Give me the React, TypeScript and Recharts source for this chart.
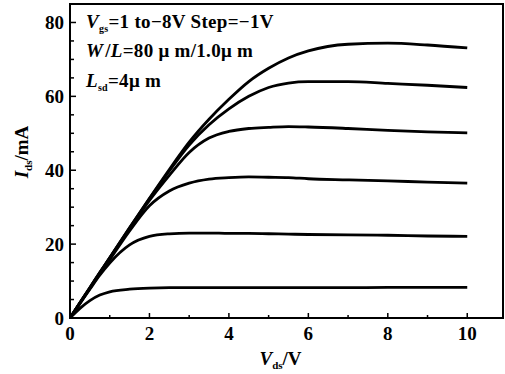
import React from "react";
import { LineChart, Line, XAxis, YAxis, ReferenceArea } from "recharts";

// Vds sample points (V) shared by every curve
const vds = [0, 0.25, 0.5, 0.75, 1, 1.5, 2, 2.5, 3, 3.5, 4, 4.5, 5, 5.5, 6, 7, 8, 9, 10];

// Ids (mA), Vgs = 1 .. -4 V
const idsVgs1 = [0, 4.1, 8.2, 12.3, 16.3, 24.4, 32.4, 40.2, 47.6, 53.8, 59.2, 64.0, 67.6, 70.4, 72.3, 74.1, 74.4, 73.9, 73.1];
const idsVgs0 = [0, 4.1, 8.2, 12.3, 16.3, 24.4, 32.3, 39.8, 46.8, 52.3, 56.6, 60.0, 62.4, 63.6, 64.0, 64.0, 63.5, 63.0, 62.4];
const idsVgsM1 = [0, 4.1, 8.1, 12.2, 16.2, 24.1, 31.8, 38.6, 44.8, 48.7, 50.5, 51.3, 51.6, 51.8, 51.7, 51.3, 50.8, 50.4, 50.1];
const idsVgsM2 = [0, 4.0, 8.0, 11.9, 15.8, 23.6, 30.4, 34.4, 36.5, 37.6, 38.0, 38.2, 38.1, 38.0, 37.7, 37.4, 37.1, 36.8, 36.5];
const idsVgsM3 = [0, 3.9, 7.8, 11.6, 14.9, 19.8, 22.1, 22.8, 23.0, 23.0, 22.9, 22.9, 22.8, 22.7, 22.6, 22.5, 22.4, 22.2, 22.1];
const idsVgsM4 = [0, 2.6, 4.7, 6.2, 7.1, 7.8, 8.1, 8.2, 8.2, 8.2, 8.2, 8.2, 8.2, 8.2, 8.2, 8.2, 8.3, 8.3, 8.3];

const seriesKeys = ["g1", "g0", "gm1", "gm2", "gm3", "gm4"];
const seriesValues = [idsVgs1, idsVgs0, idsVgsM1, idsVgsM2, idsVgsM3, idsVgsM4];

const xTicks = [0, 1, 2, 3, 4, 5, 6, 7, 8, 9, 10];
const yTicks = [0, 5, 10, 15, 20, 25, 30, 35, 40, 45, 50, 55, 60, 65, 70, 75, 80];
const X_MAX = 10.9;
const Y_MAX = 85;

const FONT = '"Liberation Serif", "DejaVu Serif", serif';

const data = vds.map((v, i) => {
  const row: Record<string, number> = { vds: v };
  seriesKeys.forEach((k, j) => {
    row[k] = seriesValues[j][i];
  });
  return row;
});

function XTick(props: any) {
  const { x, y, payload } = props;
  const v = payload.value as number;
  const major = v % 2 === 0;
  return (
    <g>
      <line x1={x} x2={x} y1={y} y2={y - (major ? 5 : 3)} stroke="#000" strokeWidth={1.5} />
      {major && (
        <text x={x} y={y + 22} textAnchor="middle" fontFamily={FONT} fontWeight="bold" fontSize={19} fill="#000">
          {v}
        </text>
      )}
    </g>
  );
}

function YTick(props: any) {
  const { x, y, payload } = props;
  const v = payload.value as number;
  const major = v % 20 === 0;
  return (
    <g>
      <line x1={x} x2={x + (major ? 6 : 4)} y1={y} y2={y} stroke="#000" strokeWidth={1.5} />
      {major && (
        <text x={x - 6} y={y + 7} textAnchor="end" fontFamily={FONT} fontWeight="bold" fontSize={19} fill="#000">
          {v}
        </text>
      )}
    </g>
  );
}

function XTitle(props: any) {
  const vb = props.viewBox || { x: 70, y: 318, width: 433, height: 56 };
  const cx = vb.x + vb.width / 2 - 6;
  return (
    <text x={cx} y={vb.y + 47} textAnchor="middle" fontFamily={FONT} fontWeight="bold" fontSize={19} fill="#000">
      <tspan fontStyle="italic">V</tspan>
      <tspan fontSize={11} dy={4}>ds</tspan>
      <tspan dy={-4}>/V</tspan>
    </text>
  );
}

function YTitle(props: any) {
  const vb = props.viewBox || { x: 0, y: 4, width: 70, height: 314 };
  const cx = vb.x + 21;
  const cy = vb.y + vb.height / 2 - 9;
  return (
    <text
      transform={`translate(${cx},${cy}) rotate(-90)`}
      dy="0.35em"
      textAnchor="middle"
      fontFamily={FONT}
      fontWeight="bold"
      fontSize={19}
      fill="#000"
    >
      <tspan fontStyle="italic">I</tspan>
      <tspan fontSize={11} dy={4}>ds</tspan>
      <tspan dy={-4}>/mA</tspan>
    </text>
  );
}

export default function App() {
  return (
    <div style={{ position: "absolute", left: 0, top: 0, width: 505, height: 374, background: "#fff" }}>
      <LineChart width={505} height={374} data={data} margin={{ top: 4, right: 2, bottom: 0, left: 0 }}>
        <XAxis
          dataKey="vds"
          type="number"
          domain={[0, X_MAX]}
          ticks={xTicks}
          interval={0}
          axisLine={false}
          tickLine={false}
          tickSize={0}
          tickMargin={0}
          height={56}
          tick={<XTick />}
          label={<XTitle />}
        />
        <YAxis
          type="number"
          domain={[0, Y_MAX]}
          ticks={yTicks}
          interval={0}
          axisLine={false}
          tickLine={false}
          tickSize={0}
          tickMargin={0}
          width={70}
          tick={<YTick />}
          label={<YTitle />}
        />
        <ReferenceArea x1={0} x2={X_MAX} y1={0} y2={Y_MAX} fill="none" stroke="#000" strokeWidth={2} />
        {seriesKeys.map((k) => (
          <Line
            key={k}
            type="monotone"
            dataKey={k}
            stroke="#000"
            strokeWidth={2.8}
            dot={false}
            isAnimationActive={false}
          />
        ))}
      </LineChart>
      <svg width={505} height={374} style={{ position: "absolute", left: 0, top: 0, pointerEvents: "none" }}>
        <text x={86} y={28} fontFamily={FONT} fontWeight="bold" fontSize={19} letterSpacing={0.3} fill="#000">
          <tspan fontStyle="italic">V</tspan>
          <tspan fontSize={10} dy={4}>gs</tspan>
          <tspan dy={-4}>=1 to−8V Step=−1V</tspan>
        </text>
        <text x={86} y={57} fontFamily={FONT} fontWeight="bold" fontSize={19} letterSpacing={0.3} fill="#000">
          <tspan fontStyle="italic">W</tspan>
          <tspan dx={2}>/</tspan>
          <tspan fontStyle="italic">L</tspan>
          <tspan>=80 μ m/1.0μ m</tspan>
        </text>
        <text x={86} y={87} fontFamily={FONT} fontWeight="bold" fontSize={19} letterSpacing={0.3} fill="#000">
          <tspan fontStyle="italic">L</tspan>
          <tspan fontSize={10} dy={4}>sd</tspan>
          <tspan dy={-4}>=4μ m</tspan>
        </text>
      </svg>
    </div>
  );
}
